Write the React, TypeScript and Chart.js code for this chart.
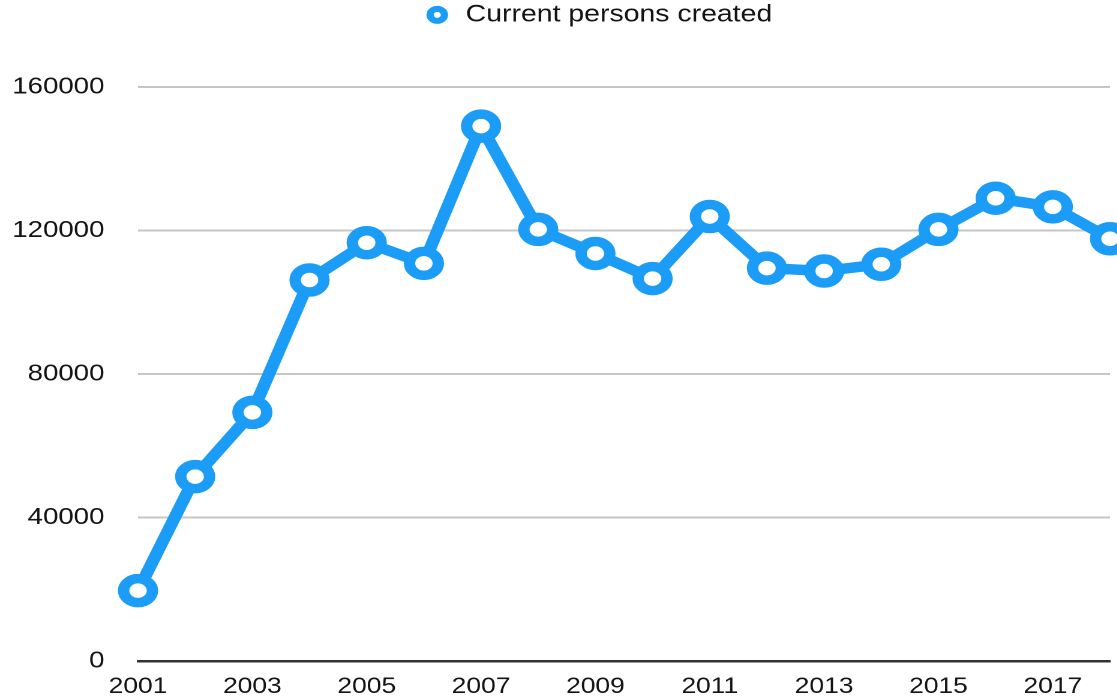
import React, { useEffect, useRef } from "react";
import { Chart, registerables } from "chart.js";

Chart.register(...registerables);

const years: string[] = [
  "2001", "2002", "2003", "2004", "2005", "2006", "2007", "2008", "2009",
  "2010", "2011", "2012", "2013", "2014", "2015", "2016", "2017", "2018",
];

const personsCreated: number[] = [
  19600, 51400, 69300, 106200, 116600, 110850, 149100, 120300, 113600,
  106600, 123900, 109500, 108700, 110600, 120300, 129000, 126600, 117700,
];

const seriesLabel = "Current persons created";
const yTicks: number[] = [0, 40000, 80000, 120000, 160000];

const BLUE = "#1b9cf6";
const TEXT = "#141414";
const FONT = "'Liberation Sans', Arial, Helvetica, sans-serif";

export default function App() {
  const ref = useRef<HTMLCanvasElement | null>(null);

  useEffect(() => {
    if (!ref.current) return;

    const legendHeightPlugin = {
      id: "legendHeight",
      beforeLayout(chart: any) {
        const lg = chart.legend;
        if (lg && !lg._patched) {
          const orig = lg.fit.bind(lg);
          lg.fit = function () {
            orig();
            this.height = 87;
          };
          lg._patched = true;
        }
      },
    };

    const chart = new Chart(ref.current, {
      type: "line",
      data: {
        labels: years,
        datasets: [
          {
            label: seriesLabel,
            data: personsCreated,
            borderColor: BLUE,
            borderWidth: 10.5,
            backgroundColor: BLUE,
            pointRadius: 12,
            pointHoverRadius: 12,
            pointBorderWidth: 9.5,
            pointBackgroundColor: "#ffffff",
            pointBorderColor: BLUE,
            tension: 0,
            fill: false,
            clip: false as any,
          },
        ],
      },
      options: {
        responsive: false,
        animation: false,
        devicePixelRatio: 2,
        layout: { padding: 0 },
        plugins: {
          tooltip: { enabled: false },
          legend: {
            position: "top",
            align: "center",
            labels: {
              usePointStyle: true,
              boxWidth: 24,
              boxHeight: 8.5,
              padding: 3,
              color: TEXT,
              font: { family: FONT, size: 23.7 },
              generateLabels: () => [
                {
                  text: seriesLabel,
                  fillStyle: "#ffffff",
                  strokeStyle: BLUE,
                  lineWidth: 6,
                  pointStyle: "circle",
                  hidden: false,
                  datasetIndex: 0,
                  fontColor: TEXT,
                } as any,
              ],
            },
          },
        },
        scales: {
          x: {
            type: "category",
            offset: false,
            grid: { display: false, drawTicks: false },
            border: { display: true, color: "#333333", width: 2.5 },
            ticks: {
              autoSkip: false,
              maxRotation: 0,
              minRotation: 0,
              padding: 12.5,
              color: TEXT,
              font: { family: FONT, size: 22 },
              callback: (_v: any, i: number) => (i % 2 === 0 ? years[i] : ""),
            },
            afterFit: (s: any) => {
              s.height = 37;
            },
          },
          y: {
            position: "left",
            min: yTicks[0],
            max: yTicks[yTicks.length - 1],
            afterBuildTicks: (s: any) => {
              s.ticks = yTicks.map((v) => ({ value: v }));
            },
            grid: {
              drawTicks: false,
              color: (ctx: any) => (ctx.tick && ctx.tick.value === 0 ? "rgba(0,0,0,0)" : "#c6c6c6"),
              lineWidth: 2,
            },
            border: { display: false },
            ticks: {
              padding: 28,
              color: TEXT,
              font: { family: FONT, size: 23 },
              callback: (v: any) => String(v),
            },
            afterFit: (s: any) => {
              s.width = 115;
              s.paddingTop = 14;
              s.paddingBottom = 14;
            },
          },
          yR: {
            position: "right",
            display: true,
            grid: { display: false, drawTicks: false },
            border: { display: false },
            ticks: { display: false },
            afterFit: (s: any) => {
              s.width = 71;
              s.paddingTop = 0;
              s.paddingBottom = 0;
            },
          },
        },
      },
      plugins: [legendHeightPlugin],
    });

    return () => chart.destroy();
  }, []);

  return (
    <div
      style={{
        position: "fixed",
        left: 0,
        top: 0,
        width: 1117,
        height: 698,
        overflow: "hidden",
        background: "#ffffff",
      }}
    >
      <div
        style={{
          width: 996,
          height: 698,
          transform: "scaleX(1.2)",
          transformOrigin: "0 0",
        }}
      >
        <canvas ref={ref} width={996} height={698} style={{ width: 996, height: 698, display: "block" }} />
      </div>
    </div>
  );
}
